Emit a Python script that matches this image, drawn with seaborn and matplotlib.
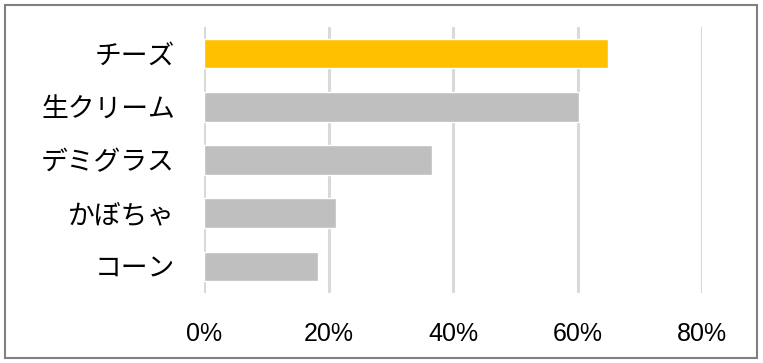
import matplotlib
matplotlib.use("Agg")
import matplotlib.pyplot as plt
import seaborn as sns
import pandas as pd
from matplotlib.patches import Rectangle
from matplotlib.ticker import PercentFormatter

categories = ["チーズ", "生クリーム", "デミグラス", "かぼちゃ", "コーン"]
values = [64.9, 60.2, 36.7, 21.2, 18.3]
colors = ["#FFC000", "#BFBFBF", "#BFBFBF", "#BFBFBF", "#BFBFBF"]
xticks = [0, 20, 40, 60, 80]

sns.set_theme(style="white")
plt.rcParams["font.family"] = ["Noto Sans CJK JP", "DejaVu Sans"]

df = pd.DataFrame({"cat": categories, "val": values})

fig = plt.figure(figsize=(7.63, 3.63), dpi=100)
ax = fig.add_axes([204/763, 1-293/363, (702-204)/763, (293-27)/363])

sns.barplot(data=df, y="cat", x="val", hue="cat", palette=colors, order=categories,
            hue_order=categories, legend=False, width=0.56, saturation=1, ax=ax)

ax.set_xlim(0, 80)
ax.set_ylim(4.5, -0.5)
ax.set_xticks(xticks)
ax.xaxis.set_major_formatter(PercentFormatter(decimals=0))
ax.grid(axis="x", color="#D9D9D9", linewidth=2.2)
ax.set_axisbelow(True)
for s in ax.spines.values():
    s.set_visible(False)
ax.set_xlabel("")
ax.set_ylabel("")
ax.tick_params(axis="y", length=0, pad=21, labelsize=19.3, labelcolor="#000000")
ax.tick_params(axis="x", length=0, pad=21, labelsize=18, labelcolor="#000000")
for lab in ax.get_xticklabels():
    lab.set_fontfamily(["Liberation Sans", "DejaVu Sans"])

fig.patches.append(Rectangle((5/763, 1-358/363), (757-5)/763, (358-5)/363,
                             transform=fig.transFigure, fill=False,
                             edgecolor="#808080", linewidth=1.5))

fig.savefig("out.png", dpi=100)
